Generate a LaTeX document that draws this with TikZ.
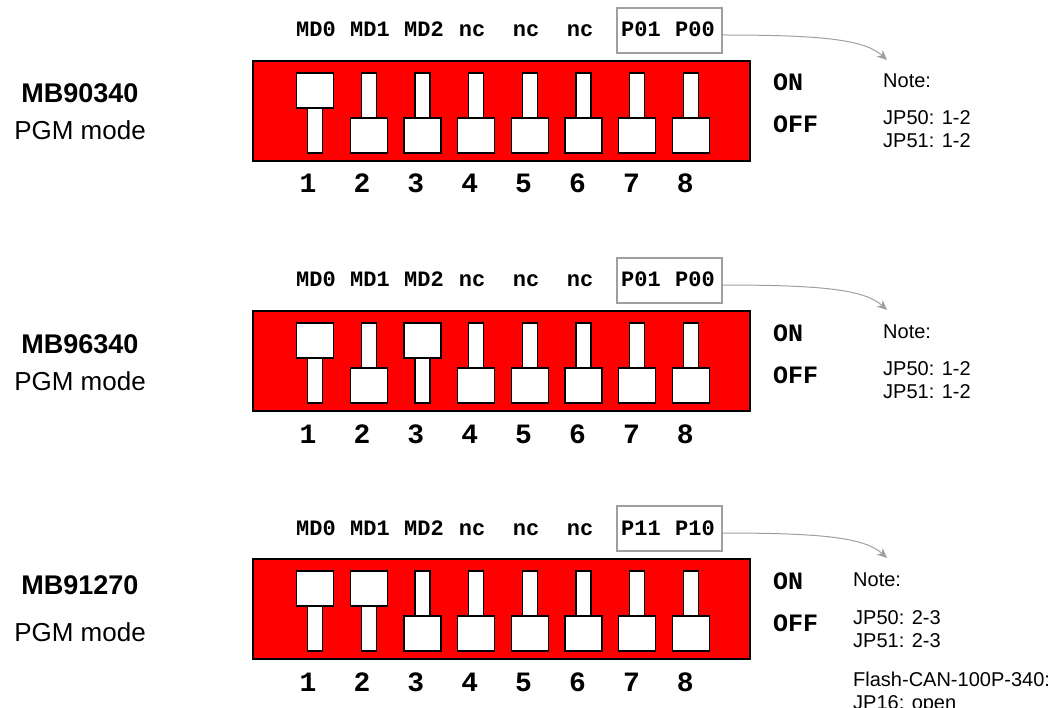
\documentclass[tikz,border=0pt]{standalone}
\usepackage{fontspec}
\setmainfont{Liberation Sans}
\setmonofont{Liberation Mono}
\usetikzlibrary{arrows.meta}

\begin{document}
\begin{tikzpicture}[x=1pt, y=-1pt,
    pin/.style={font=\ttfamily\bfseries\fontsize{22}{24}\selectfont, inner sep=0pt, anchor=base},
    num/.style={font=\ttfamily\bfseries\fontsize{28}{30}\selectfont, inner sep=0pt, anchor=base},
    onoff/.style={font=\ttfamily\bfseries\fontsize{25}{27}\selectfont, inner sep=0pt, anchor=base west},
    chip/.style={font=\bfseries\fontsize{27}{30}\selectfont, inner sep=0pt, anchor=base},
    mode/.style={font=\fontsize{26}{30}\selectfont, inner sep=0pt, anchor=base},
    note/.style={font=\fontsize{20}{23}\selectfont, inner sep=0pt, anchor=base west},
    knob/.style={draw=black, fill=white, line width=1.3pt},
    portbox/.style={draw=gray!75, line width=1.3pt, minimum width=105pt, minimum height=45pt, inner sep=0pt},
    hint/.style={draw=gray!75, line width=1pt, -{Stealth[length=10pt, width=9pt]}}]
  \useasboundingbox (0,0) rectangle (1056,708);

  \foreach \dy/\swa/\swb/\pa/\pb [count=\k] in {0/1/1/P01/P00, 250/1/3/P01/P00, 498/1/2/P11/P10} {
    \begin{scope}[shift={(0,\dy)}]
      \draw[fill=red, line width=1.3pt] (253,61) rectangle (750,161);
      \foreach \i in {1,...,8} {
        \pgfmathtruncatemacro\up{or(\i==\swa,\i==\swb)}
        \pgfmathsetmacro\cx{315+53.7*(\i-1)}
        \pgfmathsetmacro\kt{\up ? 73 : 118}
        \pgfmathsetmacro\st{\up ? 108 : 73}
        \draw[knob] ({\cx-7.5},\st) rectangle ++(15,45);
        \draw[knob] ({\cx-18.5},\kt) rectangle ++(37,35);
        \node[num] (num\k-\i) at ({308+53.9*(\i-1)},193) {\i};
      }
      \foreach \x/\t [count=\j] in {316/MD0, 370/MD1, 424/MD2, 472/nc, 526/nc, 580/nc, 641/\pa, 695/\pb}
        \node[pin] (pin\k-\j) at (\x,37) {\t};
      \node[portbox] (ports\k) at (669.5,30.5) {};
      \node[onoff] (on\k) at (773,91) {ON};
      \node[onoff] (off\k) at (773,133) {OFF};
      \coordinate (tip\k) at (887,60);
      \draw[hint] ([yshift=-4.5pt]ports\k.east) .. controls (825,35) and (865,40) .. (tip\k);
    \end{scope}
  }

  \node[chip] (chipA) at (80,103) {MB90340};
  \node[mode] (modeA) at (80,140) {PGM mode};
  \node[chip] (chipB) at (80,353) {MB96340};
  \node[mode] (modeB) at (80,390) {PGM mode};
  \node[chip] (chipC) at (80,594) {MB91270};
  \node[mode] (modeC) at (80,641) {PGM mode};

  \node[note] (noteA) at (883,88) {Note:};
  \node[note] (jp50A) at (883,125) {JP50: 1-2};
  \node[note] (jp51A) at (883,148) {JP51: 1-2};
  \node[note] (noteB) at (883,338) {Note:};
  \node[note] (jp50B) at (883,375) {JP50: 1-2};
  \node[note] (jp51B) at (883,398) {JP51: 1-2};
  \node[note] (noteC) at (853,586) {Note:};
  \node[note] (jp50C) at (853,624) {JP50: 2-3};
  \node[note] (jp51C) at (853,647) {JP51: 2-3};
  \node[note] (flashC) at (853,686) {Flash-CAN-100P-340:};
  \node[note] (jp16C) at (853,709) {JP16: open};
\end{tikzpicture}
\end{document}
